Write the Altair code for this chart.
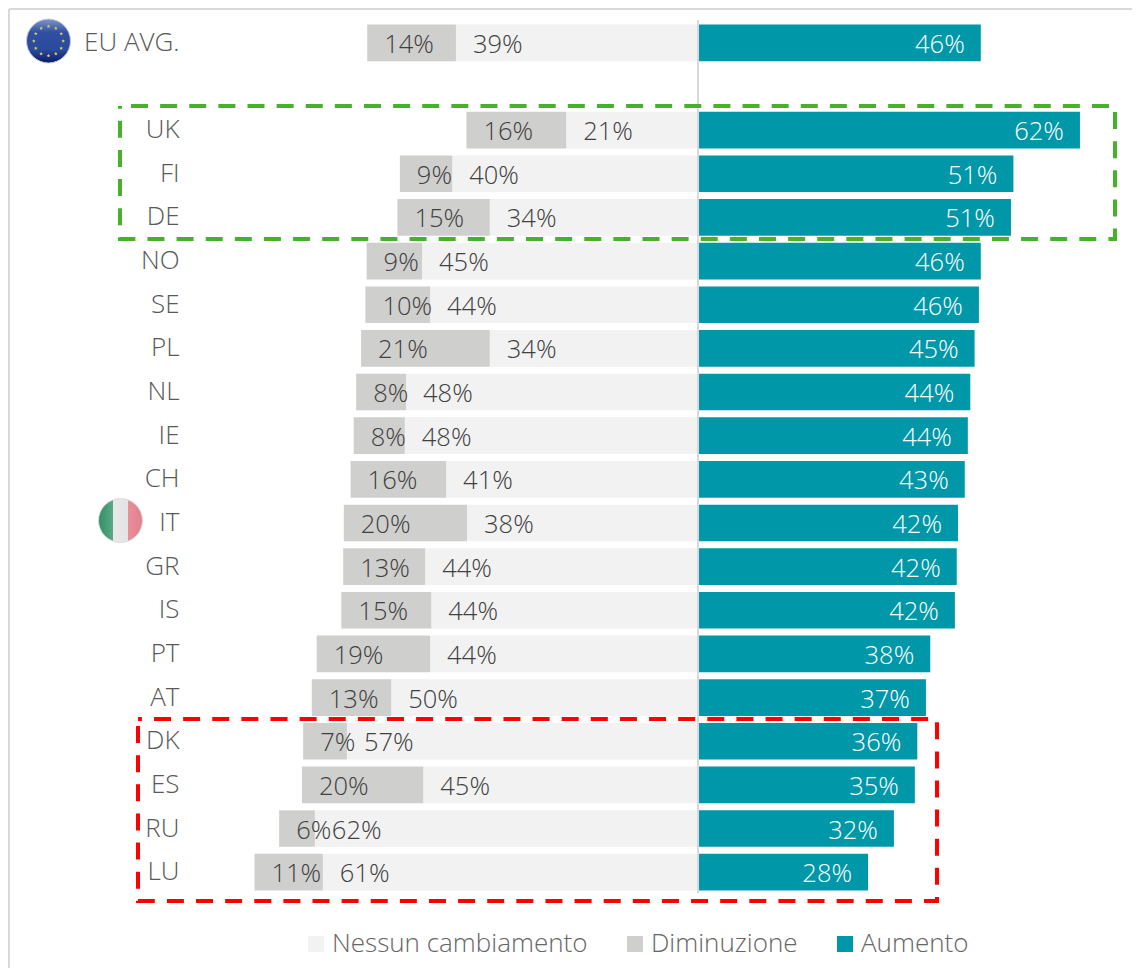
import math
import altair as alt
import pandas as pd

countries = ["EU AVG.", " ", "UK", "FI", "DE", "NO", "SE", "PL", "NL", "IE", "CH", "IT", "GR", "IS", "PT", "AT", "DK", "ES", "RU", "LU"]
rows = [c for c in countries if c != " "]
no_change = [39.3, 21.4, 39.9, 33.8, 44.8, 43.5, 33.8, 47.4, 47.6, 40.9, 37.5, 44.3, 43.3, 43.5, 49.8, 57.0, 44.6, 62.2, 60.9]
decrease = [14.4, 16.2, 8.5, 15.0, 9.0, 10.5, 20.9, 8.1, 8.3, 15.5, 20.0, 13.3, 14.6, 18.4, 12.9, 7.1, 19.7, 5.8, 11.1]
increase = [45.9, 62.0, 51.2, 50.8, 45.9, 45.6, 44.9, 44.2, 43.8, 43.3, 42.2, 42.0, 41.7, 37.7, 37.0, 35.6, 35.2, 31.8, 27.6]
no_change_labels = [39, 21, 40, 34, 45, 44, 34, 48, 48, 41, 38, 44, 44, 44, 50, 57, 45, 62, 61]
decrease_labels = [14, 16, 9, 15, 9, 10, 21, 8, 8, 16, 20, 13, 15, 19, 13, 7, 20, 6, 11]
increase_labels = [46, 62, 51, 51, 46, 46, 45, 44, 44, 43, 42, 42, 42, 38, 37, 36, 35, 32, 28]
series_names = ["Nessun cambiamento", "Diminuzione", "Aumento"]
series_colors = ["#f2f2f2", "#cfcfcd", "#0097a9"]

FONT = "Open Sans"
X_DOMAIN = [-82.47, 70.45]
OX, OY = 190, 21  # plot origin on the page


def px(v):
    return alt.value(v - OX)


def py(v):
    return alt.value(v - OY)


records = []
for i, c in enumerate(rows):
    records.append(dict(country=c, series=series_names[0], start=0, end=-no_change[i], left=-no_change[i], label=f"{no_change_labels[i]}%"))
    records.append(dict(country=c, series=series_names[1], start=-no_change[i], end=-no_change[i] - decrease[i], left=-no_change[i] - decrease[i], label=f"{decrease_labels[i]}%"))
    records.append(dict(country=c, series=series_names[2], start=0, end=increase[i], left=increase[i], label=f"{increase_labels[i]}%"))
df = pd.DataFrame(records)

x_scale = alt.Scale(domain=X_DOMAIN, zero=False, nice=False)
y_scale = alt.Scale(domain=countries, paddingInner=0.16, paddingOuter=0.08)

bars = alt.Chart(df).mark_bar().encode(
    x=alt.X("start:Q", scale=x_scale, axis=None),
    x2="end:Q",
    y=alt.Y(
        "country:N",
        scale=y_scale,
        title=None,
        axis=alt.Axis(
            domain=False, ticks=False, grid=False, labelFont=FONT, labelFontSize=26, labelFontWeight=300,
            labelColor="#595959", labelPadding=11, labelOverlap=False,
        ),
    ),
    color=alt.Color(
        "series:N",
        scale=alt.Scale(domain=series_names, range=series_colors),
        sort=series_names,
        legend=alt.Legend(
            title=None, orient="none", legendX=113, legendY=910, direction="horizontal", columns=3,
            symbolType="square", symbolSize=256, symbolStrokeWidth=0, labelFont=FONT, labelFontSize=26,
            labelFontWeight=300, labelColor="#666666", labelOffset=3, columnPadding=34, labelLimit=400,
        ),
    ),
)

left_labels = alt.Chart(df[df.series != "Aumento"]).mark_text(
    align="left", baseline="middle", dx=17, dy=2, font=FONT, fontSize=25.5, fontWeight=300, color="#404040"
).encode(x=alt.X("left:Q", scale=x_scale, axis=None), y=alt.Y("country:N", scale=y_scale), text="label:N")

right_labels = alt.Chart(df[df.series == "Aumento"]).mark_text(
    align="right", baseline="middle", dx=-16, dy=2, font=FONT, fontSize=25.5, fontWeight=300, color="#ffffff"
).encode(x=alt.X("left:Q", scale=x_scale, axis=None), y=alt.Y("country:N", scale=y_scale), text="label:N")

zero_rule = alt.Chart(pd.DataFrame({"zero": [0]})).mark_rule(color="#d9d9d9", strokeWidth=2).encode(
    x=alt.X("zero:Q", scale=x_scale, axis=None), y=py(20), y2=py(893)
)

frame_left = alt.Chart().mark_rule(color="#d9d9d9", strokeWidth=2).encode(x=px(9), y=py(9), y2=py(968))
frame_top = alt.Chart().mark_rule(color="#d9d9d9", strokeWidth=2).encode(x=px(9), x2=px(1132), y=py(9))


def dashed_box(x1, x2, y1, y2, colour, offset):
    return alt.Chart().mark_rect(
        filled=False, stroke=colour, strokeWidth=4, strokeDash=[17, 12.12], strokeDashOffset=offset
    ).encode(x=px(x1), x2=px(x2), y=py(y1), y2=py(y2))


green_box = dashed_box(120, 1115, 106, 239, "#46b22c", 18.1)
red_box = dashed_box(138, 937, 719, 901, "#ff0000", 13.1)

eu_fill = alt.LinearGradient(
    gradient="linear", x1=0, x2=0, y1=0, y2=1,
    stops=[
        alt.GradientStop(color="#7f97c8", offset=0),
        alt.GradientStop(color="#2f4fa3", offset=0.3),
        alt.GradientStop(color="#2a4a9e", offset=0.7),
        alt.GradientStop(color="#0b1c66", offset=1),
    ],
)
eu_circle = alt.Chart().mark_point(filled=True, fill=eu_fill, size=1936, opacity=1, stroke="#c8ccd8", strokeWidth=1).encode(
    x=px(48.5), y=py(41)
)
STAR = "M0,-1L0.294,-0.405L0.951,-0.309L0.476,0.155L0.588,0.809L0,0.5L-0.588,0.809L-0.476,0.155L-0.951,-0.309L-0.294,-0.405Z"
stars = [
    alt.Chart().mark_point(filled=True, shape=STAR, fill="#d9c95a", size=14, opacity=1, strokeWidth=0).encode(
        x=px(48.5 + 14.7 * math.sin(math.radians(a))), y=py(41 - 14.7 * math.cos(math.radians(a)))
    )
    for a in range(0, 360, 30)
]

it_fill = alt.LinearGradient(
    gradient="linear", x1=0, x2=1, y1=0, y2=0,
    stops=[
        alt.GradientStop(color="#2f8f63", offset=0),
        alt.GradientStop(color="#5aa883", offset=0.32),
        alt.GradientStop(color="#e8e8e8", offset=0.34),
        alt.GradientStop(color="#e4e4e4", offset=0.66),
        alt.GradientStop(color="#e88f9a", offset=0.68),
        alt.GradientStop(color="#e47f8b", offset=1),
    ],
)
it_circle = alt.Chart().mark_point(filled=True, fill=it_fill, size=1936, opacity=1, stroke="#dddddd", strokeWidth=1).encode(
    x=px(120.5), y=py(520.5)
)

chart = alt.layer(
    frame_left, frame_top, bars, left_labels, right_labels, zero_rule, green_box, red_box, eu_circle, *stars, it_circle
).properties(
    width=942,
    height=873,
    padding={"left": 182, "top": 13, "right": 0, "bottom": 74},
    autosize=alt.AutoSizeParams(type="none"),
    background="#ffffff",
).configure_view(stroke=None)

chart.save("out.html", embed_options={"renderer": "svg", "actions": False})
